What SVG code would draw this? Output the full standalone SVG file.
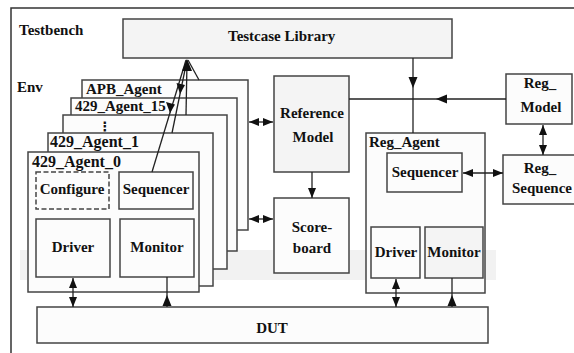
<svg xmlns="http://www.w3.org/2000/svg" width="574" height="353" viewBox="0 0 574 353">
<defs>
<marker id="ah" viewBox="0 0 10 8" refX="10" refY="4" markerWidth="11" markerHeight="8" markerUnits="userSpaceOnUse" orient="auto-start-reverse">
<path d="M0,0 L10,4 L0,8 z" fill="#111"/>
</marker>
<style>
.b{fill:#fcfcfc;stroke:#444;stroke-width:1.5}
.g{fill:#f4f4f4;stroke:#444;stroke-width:1.5}
.d{fill:#fcfcfc;stroke:#444;stroke-width:1.5;stroke-dasharray:5,2.5}
.t{font-family:"Liberation Serif","Times New Roman",serif;font-weight:bold;font-size:15px;fill:#111}
.a{font-size:16px}
.m{text-anchor:middle}
.c{stroke:#222;stroke-width:1.3;fill:none}
.h{fill:#111}
</style>
</defs>
<rect width="574" height="353" fill="#fff"/>
<rect x="20" y="250" width="476" height="30" fill="#f2f2f2"/>
<g id="testbench">
<path d="M11,353 L11,8 L574,8" fill="none" stroke="#333" stroke-width="1.5"/>
<text class="t" x="19" y="35">Testbench</text>
</g>
<g id="env"><text class="t" x="17" y="92">Env</text></g>
<g id="testcase-library">
<rect class="g" x="123" y="19" width="329" height="39"/>
<text class="t" x="228" y="41">Testcase Library</text>
</g>
<g id="apb-agent">
<rect class="b" x="82" y="80" width="166" height="150"/>
<text class="t" x="86" y="94">APB_Agent</text>
</g>
<g id="agent-15">
<rect class="b" x="71" y="98" width="166" height="153"/>
<text class="t" x="75" y="111">429_Agent_15</text>
</g>
<g id="agent-dots">
<rect class="b" x="63" y="115" width="164" height="154"/>
<text x="105" y="131" text-anchor="middle" font-family="DejaVu Sans,sans-serif" font-weight="bold" font-size="13" fill="#111">⋮</text>
</g>
<g id="agent-1">
<rect class="b" x="48" y="133" width="165" height="153"/>
<text class="t a" x="50" y="147">429_Agent_1</text>
</g>
<g id="agent-0">
<rect class="b" x="28" y="152" width="171" height="140"/>
<text class="t a" x="32" y="167">429_Agent_0</text>
</g>
<g id="configure">
<rect class="d" x="36" y="172" width="73" height="37"/>
<text class="t m" x="72" y="194">Configure</text>
</g>
<g id="sequencer-0">
<rect class="b" x="119" y="172" width="74" height="37"/>
<text class="t m" x="156" y="194">Sequencer</text>
</g>
<g id="driver-0">
<rect class="b" x="36" y="219" width="74" height="58"/>
<text class="t m" x="73" y="252">Driver</text>
</g>
<g id="monitor-0">
<rect class="b" x="120" y="219" width="74" height="58"/>
<text class="t m" x="157" y="252">Monitor</text>
</g>
<g id="reference-model">
<rect class="g" x="274" y="76" width="75" height="96"/>
<text class="t m" x="312" y="118">Reference</text>
<text class="t m" x="313" y="142">Model</text>
</g>
<g id="scoreboard">
<rect class="b" x="274" y="198" width="75" height="75"/>
<text class="t m" x="312" y="232">Score-</text>
<text class="t m" x="312" y="253">board</text>
</g>
<g id="reg-agent">
<rect class="b" x="366" y="133" width="119" height="160"/>
<text class="t" x="369" y="147">Reg_Agent</text>
</g>
<g id="reg-sequencer">
<rect class="b" x="387" y="153" width="75" height="39"/>
<text class="t m" x="425" y="177">Sequencer</text>
</g>
<g id="reg-driver">
<rect class="b" x="371" y="227" width="49" height="51"/>
<text class="t m" x="396" y="257">Driver</text>
</g>
<g id="reg-monitor">
<rect class="g" x="425" y="227" width="58" height="51"/>
<text class="t m" x="454" y="257">Monitor</text>
</g>
<g id="reg-model">
<rect class="b" x="506" y="74" width="66" height="50"/>
<text class="t m" x="540" y="88">Reg_</text>
<text class="t m" x="541" y="112">Model</text>
</g>
<g id="reg-sequence">
<rect class="b" x="503" y="155" width="74" height="49"/>
<text class="t m" x="540" y="173">Reg_</text>
<text class="t" x="512" y="193">Sequence</text>
</g>
<g id="dut">
<rect class="b" x="37" y="307" width="451" height="36"/>
<text class="t m" x="272" y="333">DUT</text>
</g>
<g id="connectors">
<line class="c" x1="249" y1="122" x2="273" y2="122" marker-start="url(#ah)" marker-end="url(#ah)"/>
<line class="c" x1="249" y1="219" x2="273" y2="219" marker-start="url(#ah)" marker-end="url(#ah)"/>
<line class="c" x1="312" y1="172" x2="312" y2="198" marker-end="url(#ah)"/>
<line class="c" x1="413" y1="58" x2="413" y2="133"/>
<polygon class="h" points="408.5,77 417.5,77 413,88"/>
<line class="c" x1="506" y1="99" x2="349" y2="99"/>
<polygon class="h" points="447,94.5 447,103.5 436,99"/>
<line class="c" x1="543" y1="125" x2="543" y2="155" marker-start="url(#ah)" marker-end="url(#ah)"/>
<line class="c" x1="463" y1="173" x2="503" y2="173" marker-start="url(#ah)" marker-end="url(#ah)"/>
<line class="c" x1="73" y1="278" x2="73" y2="307" marker-start="url(#ah)" marker-end="url(#ah)"/>
<line class="c" x1="396" y1="279" x2="396" y2="307" marker-start="url(#ah)" marker-end="url(#ah)"/>
<line class="c" x1="167" y1="277" x2="167" y2="307"/>
<polygon class="h" points="162.5,306 171.5,306 167,295"/>
<line class="c" x1="452" y1="278" x2="452" y2="307"/>
<polygon class="h" points="447.5,306 456.5,306 452,295"/>
<line class="c" x1="152" y1="172" x2="186" y2="60"/>
<polygon class="h" points="166,102 175,104.5 170,113"/>
<line class="c" x1="172" y1="133" x2="187" y2="60"/>
<polygon class="h" points="176.5,83 185,85 180,94"/>
<line class="c" x1="186" y1="115" x2="187" y2="62"/>
<line class="c" x1="199" y1="80" x2="188" y2="60"/>
<polygon class="h" points="182,71 192,71 187,59"/>
</g>
</svg>
